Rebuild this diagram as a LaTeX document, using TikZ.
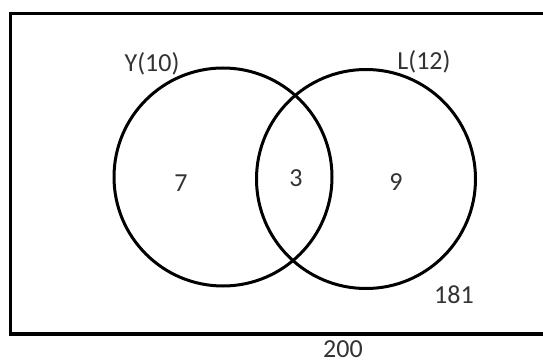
\documentclass[tikz,border=0pt]{standalone}
\usepackage{fontspec}
\setmainfont{Carlito}
\tikzset{
  setcircle/.style={draw, line width=3pt, circle, minimum size=218pt, inner sep=0pt},
  numlabel/.style={font=\fontsize{26}{30}\selectfont, text=black!80, inner sep=0pt}
}
\begin{document}
\begin{tikzpicture}[x=1pt,y=-1pt]
\useasboundingbox (0,0) rectangle (543,363);
\fill[white] (0,0) rectangle (543,363);

\draw[line width=3.6pt] (543,13.5) -- (10.5,13.5) -- (10.5,334) -- (543,334);

\node[setcircle] (Y) at (223,177) {};
\node[setcircle, minimum size=219pt] (L) at (366,179) {};

\node[numlabel] (Ylab) at (152,64) {Y(10)};
\node[numlabel] (Llab) at (424,62) {L(12)};

\node[numlabel] (onlyY) at (181,183) {7};
\node[numlabel] (both) at (296,178) {3};
\node[numlabel] (onlyL) at (396,182) {9};

\node[numlabel] (neither) at (454,295) {181};
\node[numlabel] (total) at (343,349) {200};
\end{tikzpicture}
\end{document}
